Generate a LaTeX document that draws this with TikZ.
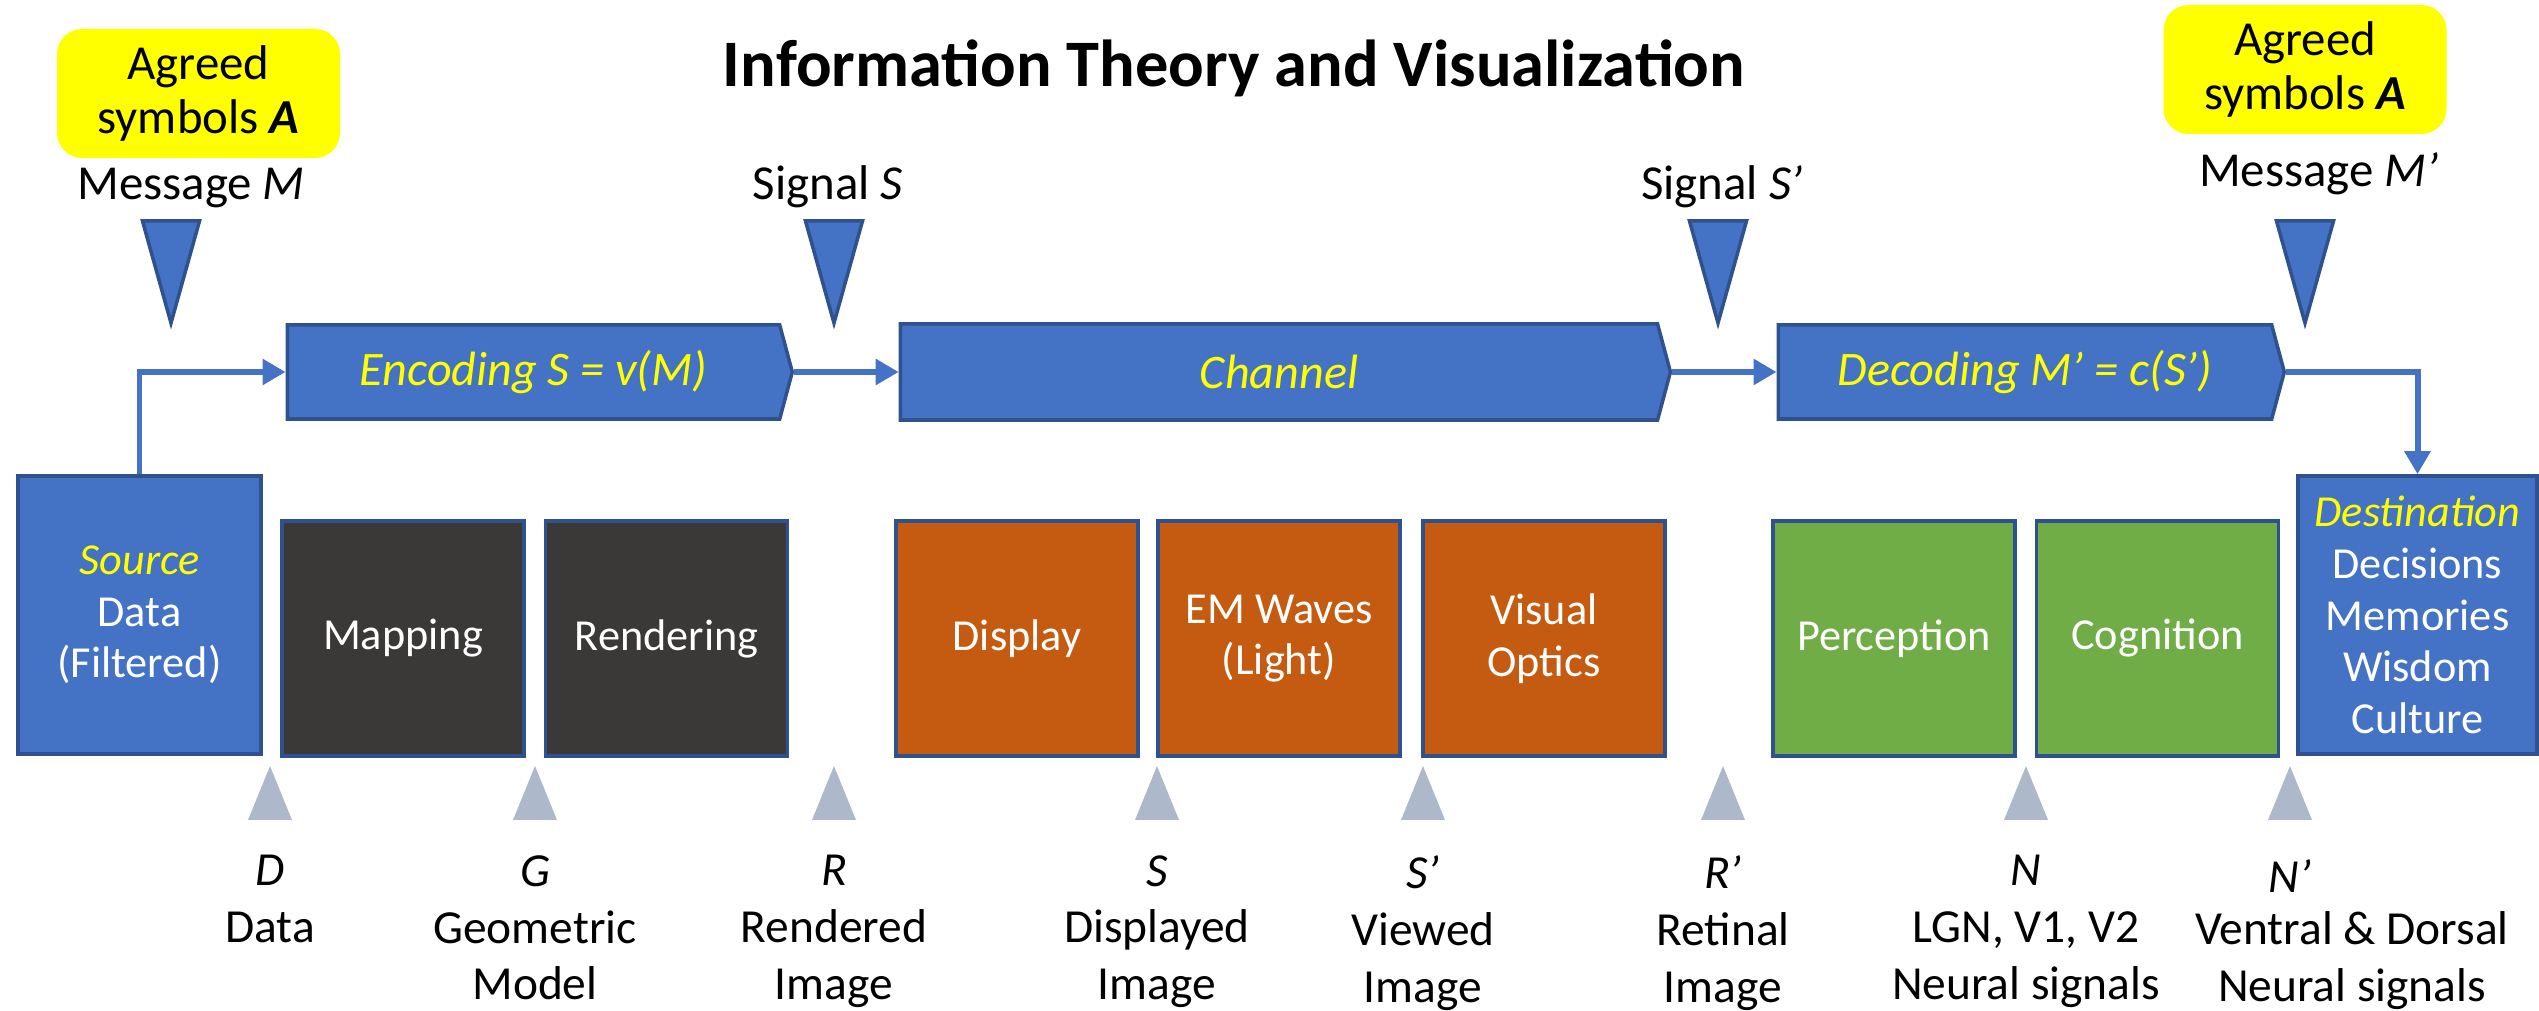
\documentclass[tikz,border=0pt]{standalone}
\usepackage{fontspec}
\setmainfont{Carlito}
\usetikzlibrary{arrows.meta,positioning,shapes.symbols}
\definecolor{boxblue}{HTML}{4472C4}
\definecolor{edgeblue}{HTML}{2F528F}
\definecolor{darkbox}{HTML}{3B3838}
\definecolor{orangebox}{HTML}{C55A11}
\definecolor{greenbox}{HTML}{70AD47}
\definecolor{markgray}{HTML}{ADB9CA}
\definecolor{hiyellow}{HTML}{FFFF00}
\tikzset{every picture/.style={line width=0.75pt}}
\tikzset{
  stage/.style={draw=edgeblue, line width=1pt, minimum width=2.42cm, minimum height=2.35cm,
    inner sep=0, text=white, align=center, font=\fontsize{12.6}{14.7}\selectfont},
  endbox/.style={stage, fill=boxblue, minimum height=2.78cm},
  coder/.style={signal, signal to=east, signal pointer angle=150, draw=edgeblue, line width=1pt,
    fill=boxblue, minimum height=0.94cm, inner sep=0, text=hiyellow, font=\fontsize{13.7}{15}\selectfont\itshape},
  agreed/.style={fill=hiyellow, rounded corners=0.25cm, minimum width=2.83cm, minimum height=1.29cm,
    inner sep=0, align=center, font=\fontsize{13.9}{15.6}\selectfont},
  toplbl/.style={anchor=base, inner sep=0, font=\fontsize{13.9}{15}\selectfont},
  lbl/.style={anchor=north, inner sep=0, align=center, font=\fontsize{13.5}{16.2}\selectfont},
  flow/.style={draw=boxblue, line width=1.7pt, -{Triangle[length=0.23cm,width=0.25cm]}},
  pointer/.style={fill=boxblue, draw=edgeblue, line width=1pt},
}

\begin{document}
\begin{tikzpicture}
    \useasboundingbox (0,0) rectangle (25.39,-10.11);
    \node[font=\fontsize{18.9}{22}\selectfont\bfseries] (title) at (12.34,-0.68) {Information Theory and Visualization};

    % agreed symbols on both ends
    \node[agreed] (agreeL) at (1.985,-0.935) {Agreed\\symbols \textbf{\textit{A}}};
    \node[agreed] (agreeR) at (23.05,-0.695) {Agreed\\symbols \textbf{\textit{A}}};

    % coding chain
    \node[coder, minimum width=5.05cm] (enc) at (5.335,-3.72) {Encoding S = v(M)};
    \node[coder, minimum width=7.70cm, minimum height=0.96cm] (chan) at (12.79,-3.72) {Channel};
    \node[coder, minimum width=5.06cm] (dec) at (20.25,-3.72) {Decoding M’ = c(S’)};

    % stages
    \node[endbox, minimum width=2.43cm] (src) at (1.395,-6.15) {\textcolor{hiyellow}{\textit{Source}}\\Data\\(Filtered)};
    \node[stage, fill=darkbox] (map) at (4.03,-6.385) {Mapping};
    \node[stage, fill=darkbox] (rend) at (6.665,-6.385) {Rendering};
    \node[stage, fill=orangebox] (disp) at (10.17,-6.385) {Display};
    \node[stage, fill=orangebox] (emw) at (12.79,-6.385) {EM Waves\\(Light)};
    \node[stage, fill=orangebox] (opt) at (15.44,-6.385) {Visual\\Optics};
    \node[stage, fill=greenbox] (perc) at (18.94,-6.385) {Perception};
    \node[stage, fill=greenbox] (cogn) at (21.575,-6.385) {Cognition};
    \node[endbox, minimum width=2.39cm] (dest) at (24.175,-6.15) {\textcolor{hiyellow}{\textit{Destination}}\\Decisions\\Memories\\Wisdom\\Culture};

    \draw[flow] (src.north) |- (enc.west);
    \draw[flow] (enc.east) -- (chan.west);
    \draw[flow] (chan.east) -- (dec.west);
    \draw[flow] (dec.east) -| (dest.north);

    % message and signal pointers
    \foreach \n/\x in {M/1.71, S/8.34, Sp/17.18, Mp/23.05} {
        \coordinate (p\n) at (\x,-2.21);
        \filldraw[pointer] (p\n) ++(-0.285,0) -- ++(0.57,0) -- ++(-0.285,-1.02) -- cycle;
    }
    \node[toplbl] (msgM) at (1.91,-2.00) {Message \textit{M}};
    \node[toplbl] (sigS) at (8.28,-2.00) {Signal \textit{S}};
    \node[toplbl] (sigSp) at (17.22,-2.00) {Signal \textit{S’}};
    \node[toplbl] (msgMp) at (23.19,-1.87) {Message \textit{M’}};

    % data stages below
    \foreach \n/\x in {D/2.70, G/5.35, R/8.34, S/11.57, Sp/14.23, Rp/17.23, N/20.26, Np/22.90} {
        \coordinate (t\n) at (\x,-8.20);
        \fill[markgray] (t\n) ++(-0.22,0) -- ++(0.44,0) -- ++(-0.22,0.54) -- cycle;
    }
    \node[lbl, below=0.34cm of tD] (lD) {\textit{D}\\Data};
    \node[lbl, below=0.34cm of tG] (lG) {\textit{G}\\Geometric\\Model};
    \node[lbl, below=0.34cm of tR] (lR) {\textit{R}\\Rendered\\Image};
    \node[lbl, below=0.34cm of tS] (lS) {\textit{S}\\Displayed\\Image};
    \node[lbl, below=0.34cm of tSp] (lSp) {\textit{S’}\\Viewed\\Image};
    \node[lbl, below=0.34cm of tRp] (lRp) {\textit{R’}\\Retinal\\Image};
    \node[lbl, below=0.34cm of tN] (lN) {\textit{N}\\LGN, V1, V2\\Neural signals};
    \node[lbl, below=0.38cm of tNp] (lNp) {\textit{N’}};
    \node[lbl] (lNpt) at (23.52,-9.10) {Ventral \& Dorsal\\Neural signals};
\end{tikzpicture}
\end{document}
